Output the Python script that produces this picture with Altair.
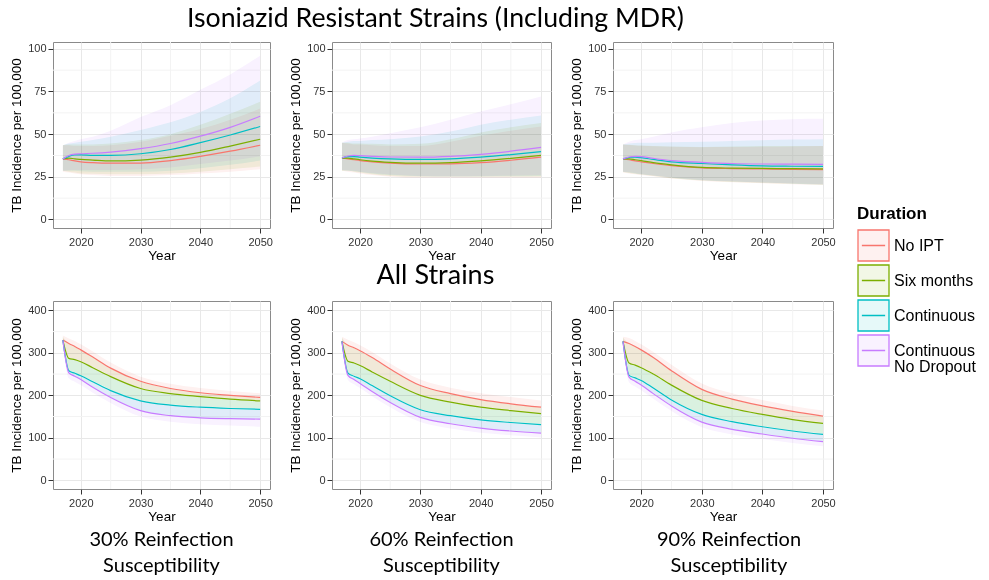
import altair as alt
import pandas as pd

# ---------------- data ----------------
YEARS = [2017, 2018, 2019, 2020, 2022, 2025, 2030, 2035, 2040, 2045, 2050]
SERIES = ["No IPT", "Six months", "Continuous", "Continuous No Dropout"]
COLORS = ["#F8766D", "#7CAE00", "#00BFC4", "#C77CFF"]
# the same hues at 10% over white (ribbon fill)
FILLS = ["#FEF1F0", "#F2F7E6", "#E6F9F9", "#F9F2FF"]

X_TICKS = [2020, 2030, 2040, 2050]
X_MINOR = [2025, 2035, 2045]
Y_TICKS_TOP = [0, 25, 50, 75, 100]
Y_MINOR_TOP = [12.5, 37.5, 62.5, 87.5]
Y_TICKS_BOT = [0, 100, 200, 300, 400]
Y_MINOR_BOT = [50, 150, 250, 350]

TOP_TITLE = "Isoniazid Resistant Strains (Including MDR)"
BOT_TITLE = "All Strains"
COL_LABELS = [["30% Reinfection", "Susceptibility"],
              ["60% Reinfection", "Susceptibility"],
              ["90% Reinfection", "Susceptibility"]]

# Isoniazid resistant, 30% reinfection
IR30_MEAN = {
    "No IPT":                [35.5, 35.0, 34.3, 33.8, 33.3, 33.0, 33.0, 34.5, 37.0, 40.0, 43.5],
    "Six months":            [35.5, 36.0, 35.5, 35.2, 34.8, 34.3, 34.8, 36.5, 39.3, 43.0, 47.0],
    "Continuous":            [35.5, 37.0, 37.8, 37.8, 37.6, 37.6, 38.5, 41.0, 45.0, 49.5, 54.5],
    "Continuous No Dropout": [35.5, 37.5, 38.3, 38.5, 38.8, 39.5, 41.5, 44.5, 48.8, 54.0, 60.5],
}
IR30_LO = {
    "No IPT":                [28.0, 27.5, 27.0, 26.5, 26.0, 25.5, 25.5, 26.0, 27.0, 28.0, 29.5],
    "Six months":            [28.5, 28.0, 27.5, 27.0, 26.8, 26.5, 26.5, 27.0, 28.0, 29.5, 31.0],
    "Continuous":            [28.5, 28.5, 28.5, 28.2, 28.0, 28.0, 28.0, 28.5, 30.0, 32.0, 34.5],
    "Continuous No Dropout": [28.5, 28.8, 29.0, 29.0, 29.0, 29.0, 29.5, 30.5, 32.5, 34.5, 37.0],
}
IR30_HI = {
    "No IPT":                [43.5, 43.5, 43.0, 43.0, 43.0, 43.5, 45.5, 49.0, 53.0, 58.5, 65.0],
    "Six months":            [43.5, 44.0, 44.0, 44.0, 44.0, 44.5, 46.5, 50.0, 55.5, 62.0, 69.0],
    "Continuous":            [43.5, 44.5, 45.0, 45.5, 46.5, 48.5, 52.5, 57.0, 63.0, 71.0, 81.5],
    "Continuous No Dropout": [43.5, 45.0, 46.0, 47.0, 48.5, 52.0, 60.0, 67.0, 76.0, 85.0, 96.0],
}

# Isoniazid resistant, 60% reinfection
IR60_MEAN = {
    "No IPT":                [36.0, 35.5, 35.0, 34.5, 33.8, 33.0, 32.5, 32.6, 33.3, 34.7, 36.5],
    "Six months":            [36.0, 36.0, 35.5, 35.0, 34.2, 33.5, 33.0, 33.3, 34.3, 35.8, 37.6],
    "Continuous":            [36.0, 36.8, 36.8, 36.5, 36.0, 35.5, 35.2, 35.5, 36.5, 38.0, 39.8],
    "Continuous No Dropout": [36.0, 37.2, 37.6, 37.4, 37.0, 36.6, 36.5, 37.0, 38.2, 40.0, 42.2],
}
IR60_LO = {
    "No IPT":                [28.5, 28.0, 27.5, 27.0, 26.0, 25.0, 24.5, 24.5, 24.5, 24.5, 24.5],
    "Six months":            [28.5, 28.5, 28.0, 27.5, 26.5, 25.5, 25.0, 25.0, 25.0, 25.0, 25.0],
    "Continuous":            [28.8, 28.5, 28.2, 27.8, 27.0, 26.0, 25.3, 25.2, 25.2, 25.3, 25.5],
    "Continuous No Dropout": [29.0, 28.8, 28.5, 28.0, 27.2, 26.3, 25.5, 25.3, 25.5, 25.8, 26.0],
}
IR60_HI = {
    "No IPT":                [45.0, 44.5, 44.0, 44.0, 43.5, 43.0, 43.0, 45.5, 49.0, 52.0, 54.5],
    "Six months":            [45.0, 45.0, 44.5, 44.5, 44.3, 44.0, 44.3, 47.0, 51.0, 54.0, 56.5],
    "Continuous":            [45.0, 45.5, 46.0, 46.0, 46.5, 47.0, 48.6, 51.5, 55.5, 58.5, 61.0],
    "Continuous No Dropout": [45.0, 46.5, 47.0, 47.5, 48.5, 50.5, 54.0, 58.5, 63.3, 67.5, 72.0],
}

# Isoniazid resistant, 90% reinfection
IR90_MEAN = {
    "No IPT":                [35.5, 35.0, 34.3, 33.8, 32.8, 31.5, 30.2, 29.8, 29.6, 29.4, 29.2],
    "Six months":            [35.5, 35.5, 35.0, 34.5, 33.3, 32.0, 30.5, 30.1, 29.9, 29.8, 29.6],
    "Continuous":            [35.5, 36.3, 36.5, 36.2, 35.2, 33.8, 32.8, 32.0, 31.4, 31.2, 31.1],
    "Continuous No Dropout": [35.5, 36.6, 37.0, 36.8, 35.8, 34.5, 33.5, 32.8, 32.5, 32.4, 32.3],
}
IR90_LO = {
    "No IPT":                [27.5, 27.0, 26.5, 26.0, 25.3, 24.0, 22.6, 21.8, 21.2, 20.7, 20.2],
    "Six months":            [27.8, 27.3, 26.8, 26.3, 25.5, 24.2, 22.8, 22.0, 21.4, 20.9, 20.4],
    "Continuous":            [28.0, 27.5, 27.0, 26.5, 25.7, 24.5, 23.0, 22.2, 21.6, 21.0, 20.5],
    "Continuous No Dropout": [28.0, 27.6, 27.2, 26.7, 25.8, 24.6, 23.2, 22.4, 21.7, 21.2, 20.7],
}
IR90_HI = {
    "No IPT":                [44.0, 43.7, 43.4, 43.2, 42.9, 42.6, 42.3, 42.4, 42.6, 42.8, 43.0],
    "Six months":            [44.0, 43.8, 43.5, 43.3, 43.0, 42.8, 42.5, 42.7, 43.0, 43.1, 43.1],
    "Continuous":            [44.0, 44.5, 44.8, 45.0, 45.0, 45.2, 45.5, 46.0, 46.4, 46.8, 47.0],
    "Continuous No Dropout": [44.0, 45.5, 46.5, 47.0, 48.5, 51.0, 54.0, 56.5, 58.0, 58.8, 59.0],
}

# All strains, 30% reinfection
ALL30_MEAN = {
    "No IPT":                [330, 322, 315, 307, 290, 264, 233, 216, 206, 200, 195],
    "Six months":            [330, 287, 284, 279, 265, 244, 216, 204, 197, 191, 187],
    "Continuous":            [330, 258, 252, 246, 232, 211, 187, 177, 172, 169, 167],
    "Continuous No Dropout": [330, 253, 245, 237, 219, 195, 164, 152, 147, 145, 144],
}
ALL30_LO = {
    "No IPT":                [320, 289, 286, 281, 267, 246, 218, 206, 199, 193, 189],
    "Six months":            [320, 260, 254, 248, 234, 213, 189, 179, 174, 171, 169],
    "Continuous":            [320, 254, 246, 238, 220, 196, 165, 153, 148, 146, 145],
    "Continuous No Dropout": [320, 240, 232, 224, 206, 182, 150, 138, 132, 129, 126],
}
ALL30_HI = {
    "No IPT":                [341, 334, 328, 320, 303, 277, 244, 227, 217, 210, 205],
    "Six months":            [338, 321, 314, 306, 289, 263, 232, 215, 205, 199, 194],
    "Continuous":            [338, 286, 283, 278, 264, 243, 215, 203, 196, 190, 186],
    "Continuous No Dropout": [338, 257, 251, 245, 231, 210, 186, 176, 171, 168, 166],
}

# All strains, 60% reinfection
ALL60_MEAN = {
    "No IPT":                [327, 318, 312, 305, 289, 262, 223, 204, 190, 180, 172],
    "Six months":            [327, 280, 276, 270, 255, 233, 200, 184, 172, 164, 157],
    "Continuous":            [327, 252, 245, 239, 223, 199, 166, 152, 142, 136, 131],
    "Continuous No Dropout": [327, 247, 237, 228, 209, 183, 148, 133, 123, 116, 111],
}
ALL60_LO = {
    "No IPT":                [318, 282, 278, 272, 257, 235, 202, 186, 174, 166, 159],
    "Six months":            [318, 254, 247, 241, 225, 201, 168, 154, 144, 138, 133],
    "Continuous":            [318, 248, 238, 229, 210, 184, 149, 134, 124, 117, 112],
    "Continuous No Dropout": [318, 236, 226, 217, 198, 172, 137, 122, 112, 106, 101],
}
ALL60_HI = {
    "No IPT":                [338, 331, 325, 318, 302, 275, 237, 218, 205, 196, 188],
    "Six months":            [336, 317, 311, 304, 288, 261, 222, 203, 189, 179, 171],
    "Continuous":            [336, 279, 275, 269, 254, 232, 199, 183, 171, 163, 156],
    "Continuous No Dropout": [336, 251, 244, 238, 222, 198, 165, 151, 141, 135, 130],
}

# All strains, 90% reinfection
ALL90_MEAN = {
    "No IPT":                [327, 322, 315, 307, 289, 258, 214, 191, 175, 162, 151],
    "Six months":            [327, 276, 271, 265, 250, 224, 188, 169, 155, 143, 134],
    "Continuous":            [327, 247, 241, 235, 217, 189, 155, 138, 126, 116, 108],
    "Continuous No Dropout": [327, 243, 233, 224, 204, 175, 137, 120, 109, 99, 91],
}
ALL90_LO = {
    "No IPT":                [318, 278, 273, 267, 252, 226, 190, 171, 157, 145, 136],
    "Six months":            [318, 249, 243, 237, 219, 191, 157, 140, 128, 118, 110],
    "Continuous":            [318, 244, 234, 225, 205, 176, 138, 121, 110, 100, 92],
    "Continuous No Dropout": [318, 231, 221, 212, 192, 163, 125, 108, 97, 88, 80],
}
ALL90_HI = {
    "No IPT":                [338, 335, 328, 320, 302, 272, 228, 205, 189, 175, 164],
    "Six months":            [336, 321, 314, 306, 288, 257, 213, 190, 174, 161, 150],
    "Continuous":            [336, 275, 270, 264, 249, 223, 187, 168, 154, 142, 133],
    "Continuous No Dropout": [336, 246, 240, 234, 216, 188, 154, 137, 125, 115, 107],
}

# ---------------- chart ----------------
AXIS_FONT = "Liberation Sans"
HEAD_FONT = "Lato"


def frame(mean, lo, hi):
    rows = []
    for s in SERIES:
        for i, yr in enumerate(YEARS):
            rows.append({"Year": yr, "Duration": s,
                         "mean": mean[s][i], "lo": lo[s][i], "hi": hi[s][i]})
    return pd.DataFrame(rows)


LEGEND = alt.Legend(
    title="Duration",
    orient="none", legendX=804, legendY=164,
    titleFont=AXIS_FONT, titleFontSize=17, titleFontWeight="bold", titleColor="#000",
    titlePadding=6,
    labelFont=AXIS_FONT, labelFontSize=16, labelColor="#000",
    labelExpr="datum.label == 'Continuous No Dropout' ? ['Continuous', 'No Dropout'] : datum.label",
    symbolType="M-1,-1H1V1H-1Z M-0.75,0H0.75",
    symbolSize=961, symbolStrokeWidth=1.3, rowPadding=-5, labelOffset=4,
)

FILL = alt.Fill("Duration:N", scale=alt.Scale(domain=SERIES, range=FILLS),
                legend=LEGEND, sort=SERIES)
STROKE = alt.Stroke("Duration:N", scale=alt.Scale(domain=SERIES, range=COLORS),
                    legend=LEGEND, sort=SERIES)

X_SCALE = alt.Scale(domain=[2015.35, 2051.65], nice=False, zero=False)
X_AXIS = alt.Axis(values=X_TICKS, format="d", title="Year")


def panel(df, ydom, yticks, yminor, w, h, label=None, label_dx=0):
    yscale = alt.Scale(domain=ydom, nice=False, zero=False)
    yaxis = alt.Axis(values=yticks, title="TB Incidence per 100,000")
    x = alt.X("Year:Q", scale=X_SCALE, axis=X_AXIS)
    mx = alt.Chart(pd.DataFrame({"Year": X_MINOR})).mark_rule(
        color="#f3f3f3", strokeWidth=1).encode(x=x)
    my = alt.Chart(pd.DataFrame({"v": yminor})).mark_rule(
        color="#f3f3f3", strokeWidth=1).encode(y=alt.Y("v:Q", scale=yscale, axis=yaxis))
    band = alt.Chart(df).mark_area(interpolate="monotone", blend="multiply").encode(
        x=x,
        y=alt.Y("lo:Q", scale=yscale, axis=yaxis),
        y2="hi:Q",
        fill=FILL,
    )
    line = alt.Chart(df).mark_line(strokeWidth=1.2, interpolate="monotone").encode(
        x=x,
        y=alt.Y("mean:Q", scale=yscale, axis=yaxis),
        stroke=STROKE,
    )
    ch = alt.layer(mx, my, band, line).properties(width=w, height=h)
    if label is not None:
        ch = ch.properties(title=alt.TitleParams(
            label, orient="bottom", font=HEAD_FONT, fontSize=20, fontWeight="normal",
            color="#000", offset=7, lineHeight=26, anchor="middle", dx=label_dx))
    return ch


TOP_DOM = [-5, 104]
BOT_DOM = [-20.5, 422]
TH = 186
BH = 188
WIDTHS = [217, 219, 220]

tops = [
    panel(frame(IR30_MEAN, IR30_LO, IR30_HI), TOP_DOM, Y_TICKS_TOP, Y_MINOR_TOP, WIDTHS[0], TH),
    panel(frame(IR60_MEAN, IR60_LO, IR60_HI), TOP_DOM, Y_TICKS_TOP, Y_MINOR_TOP, WIDTHS[1], TH),
    panel(frame(IR90_MEAN, IR90_LO, IR90_HI), TOP_DOM, Y_TICKS_TOP, Y_MINOR_TOP, WIDTHS[2], TH),
]
bots = [
    panel(frame(ALL30_MEAN, ALL30_LO, ALL30_HI), BOT_DOM, Y_TICKS_BOT, Y_MINOR_BOT, WIDTHS[0], BH, COL_LABELS[0], 0),
    panel(frame(ALL60_MEAN, ALL60_LO, ALL60_HI), BOT_DOM, Y_TICKS_BOT, Y_MINOR_BOT, WIDTHS[1], BH, COL_LABELS[1], 0),
    panel(frame(ALL90_MEAN, ALL90_LO, ALL90_HI), BOT_DOM, Y_TICKS_BOT, Y_MINOR_BOT, WIDTHS[2], BH, COL_LABELS[2], 6),
]

top_row = alt.HConcatChart(hconcat=tops, spacing=62, bounds="flush").properties(
    title=alt.TitleParams(TOP_TITLE, font=HEAD_FONT, fontSize=26.7, fontWeight="normal",
                          color="#000", anchor="middle", offset=8, dx=13))
bot_row = alt.HConcatChart(hconcat=bots, spacing=62, bounds="flush").properties(
    title=alt.TitleParams(BOT_TITLE, font=HEAD_FONT, fontSize=27, fontWeight="normal",
                          color="#000", anchor="middle", offset=10, dx=13))

chart = alt.vconcat(top_row, bot_row, spacing=0).properties(
    padding={"left": 9, "top": 6, "right": 0, "bottom": 0},
    background="white",
).configure(
    style={"guide-label": {"lineHeight": 16}},
).configure_view(
    stroke="#8a8a8a", strokeWidth=1,
).configure_axis(
    domain=False,
    grid=True, gridColor="#e8e8e8", gridWidth=1,
    tickColor="#333", tickSize=5, tickWidth=1,
    labelFont=AXIS_FONT, labelFontSize=11, labelColor="#333", labelPadding=2,
    titleFont=AXIS_FONT, titleFontSize=13.5, titleFontWeight="normal", titleColor="#000",
).configure_axisX(
    titlePadding=1, labelPadding=3,
).configure_axisY(
    titlePadding=4,
)

chart.save("out.html", embed_options={"renderer": "svg", "actions": False})
